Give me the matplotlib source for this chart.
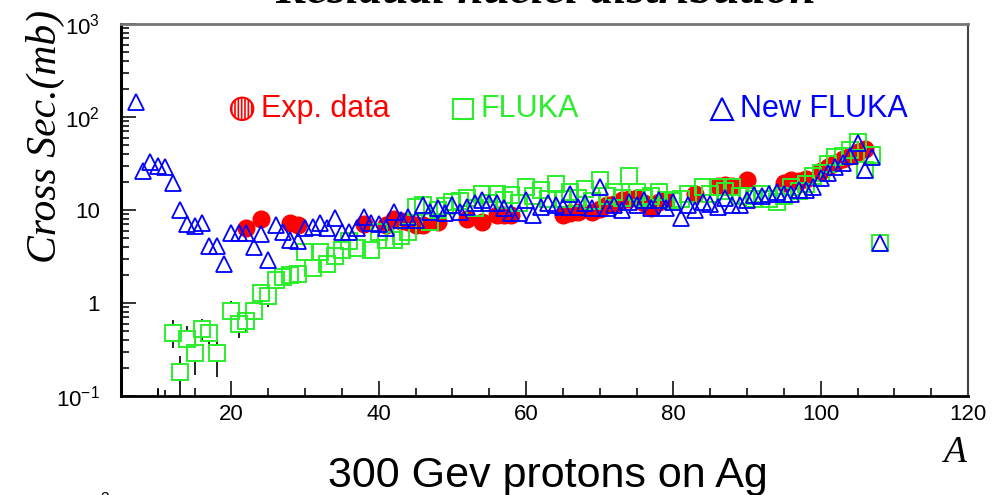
import matplotlib
matplotlib.use("Agg")
import matplotlib.pyplot as plt
import numpy as np
from matplotlib.ticker import FixedLocator, MultipleLocator, LogLocator, NullFormatter

# Residual nuclei cross sections, 300 GeV p + Ag
# measured data
exp_A = [22, 24, 28, 29, 38, 41, 42, 43, 44, 45, 46, 48, 52, 54, 56, 57, 58,
         65, 66, 67, 69, 70, 71, 72, 73, 74, 75, 76, 77, 78, 79, 83, 86, 87, 88,
         90, 95, 96, 97, 98, 100, 101, 102, 103, 104, 105, 106]
exp_xs = [6.4, 8.0, 7.2, 6.9, 7.1, 6.9, 8.0, 7.7, 7.4, 6.9, 6.9, 7.5, 8.1, 7.5,
          8.8, 8.9, 8.8, 8.8, 9.2, 9.6, 9.6, 10.2, 11.3, 11.5, 12.8, 13.2, 13.4,
          12.0, 10.4, 12.3, 12.8, 15.0, 18.2, 18.5, 18.0, 21.0, 19.5, 21.0, 20.5,
          21.5, 26.0, 29.0, 32.0, 35.0, 38.0, 42.0, 45.0]

# FLUKA
fluka_A = [10, 11, 12, 13, 14, 15, 16, 17, 18, 20, 21, 22, 23, 24, 25, 26, 27,
           28, 29, 30, 31, 32, 33, 34, 35, 36, 37, 39, 40, 41, 42, 43, 44, 45,
           46, 47, 48, 49, 50, 51, 52, 53, 54, 55, 56, 57, 58, 59, 60, 61, 62,
           63, 64, 65, 66, 67, 68, 69, 70, 71, 72, 73, 74, 75, 76, 77, 78, 79,
           80, 81, 82, 84, 85, 86, 87, 88, 89, 90, 91, 92, 93, 94, 95, 96, 97,
           98, 99, 100, 101, 102, 103, 104, 105, 106, 107, 108]
fluka_xs = [0.06, 0.065, 0.47, 0.18, 0.41, 0.29, 0.53, 0.47, 0.29, 0.82, 0.59,
            0.64, 0.82, 1.29, 1.19, 1.77, 1.9, 2.0, 2.05, 3.5, 2.4, 3.5, 2.6,
            3.2, 3.7, 4.6, 3.9, 3.7, 5.8, 4.8, 4.8, 5.2, 5.8, 10.9, 11.3, 7.5,
            10.0, 11.0, 12.3, 12.5, 13.4, 10.5, 15.0, 12.0, 15.0, 12.7, 14.5,
            12.0, 17.8, 14.0, 16.4, 13.0, 19.0, 13.0, 15.7, 13.5, 17.0, 12.5,
            21.0, 14.0, 15.7, 13.5, 23.0, 15.7, 13.5, 14.0, 15.7, 12.8, 12.5,
            13.0, 15.0, 17.8, 15.0, 17.8, 16.0, 17.8, 14.0, 14.0, 13.0, 15.0,
            13.0, 12.3, 14.0, 17.8, 16.0, 19.0, 23.0, 25.0, 31.0, 37.0, 38.0,
            44.0, 54.0, 27.0, 39.0, 4.4]

# FLUKA statistical errors (low-A tail)
err_A = [10, 11, 12, 13, 14, 15, 16, 17, 18, 20, 21, 22, 23, 24, 25]
err_lo = [0.05, 0.05, 0.33, 0.09, 0.27, 0.17, 0.38, 0.33, 0.16, 0.62, 0.42,
          0.47, 0.62, 1.0, 0.9]
err_hi = [0.12, 0.115, 0.65, 0.27, 0.56, 0.42, 0.68, 0.60, 0.38, 1.05, 0.80,
          0.83, 1.05, 1.6, 1.5]

# New FLUKA
new_A = list(range(7, 109))
new_xs = [145, 26, 33, 30, 29, 19.6, 10, 7.1, 6.7, 7.2, 4.1, 4.1, 2.6, 5.7,
          5.7, 5.6, 4.0, 5.5, 2.9, 6.9, 5.8, 4.8, 4.6, 6.4, 6.6, 7.2, 6.4, 8.2,
          5.8, 5.8, 6.4, 8.5, 7.2, 7.0, 6.4, 9.6, 7.8, 8.5, 7.8, 11.3, 9.6,
          10.4, 9.3, 11.3, 9.6, 10.9, 11.8, 12.8, 11.8, 11.8, 10.4, 9.3, 9.3,
          12.8, 8.8, 10.9, 11.8, 11.3, 10.9, 15.0, 10.9, 11.8, 10.4, 17.8, 10.4,
          11.3, 10.0, 12.3, 11.3, 12.8, 10.4, 12.8, 10.4, 12.3, 8.2, 11.3, 10.0,
          12.3, 11.5, 10.9, 13.4, 11.3, 11.3, 12.8, 14.5, 14.0, 15.0, 15.6,
          15.0, 15.0, 16.4, 16.4, 17.8, 22.0, 25.0, 29.0, 32.0, 38.0,
          52.0, 27.0, 37.0, 4.4]

RED = "#ff0000"
GREEN = "#2bee2b"
BLUE = "#0000ff"

plt.rcParams["font.family"] = ["Liberation Sans", "DejaVu Sans"]
plt.rcParams["mathtext.default"] = "regular"
plt.rcParams["hatch.color"] = RED
plt.rcParams["hatch.linewidth"] = 1.2

fig = plt.figure(figsize=(10.05, 4.95), dpi=100)
ax = fig.add_axes([0.1204, 0.2, 0.8428, 0.7515])

ax.set_xscale("linear")
ax.set_yscale("log")
ax.set_xlim(5, 120)
ax.set_ylim(0.1, 1000)

# error bars with a gap around the marker, like ROOT does
gap = 1.22
err_v = np.array([fluka_xs[fluka_A.index(a)] for a in err_A])
ax.vlines(err_A, err_lo, np.minimum(err_v / gap, err_hi), color="black", lw=1.2, zorder=2)
ax.vlines(err_A, np.maximum(err_v * gap, err_lo), err_hi, color="black", lw=1.2, zorder=2)

ax.plot(exp_A, exp_xs, "o", ms=12, color=RED, mec=RED, zorder=3)
ax.plot(fluka_A, fluka_xs, "s", ms=11, mfc="none", mec=GREEN, mew=1.4, zorder=4)
ax.plot(new_A, new_xs, "^", ms=11.5, mfc="none", mec=BLUE, mew=1.3, zorder=5)

# legend drawn in place
ax.scatter([0.143], [0.772], s=260, marker="o", facecolors="white",
           edgecolors=RED, hatch="|||||", linewidths=1.5, transform=ax.transAxes,
           zorder=6)
ax.text(0.165, 0.772, "Exp. data", color=RED, fontsize=22, va="center",
        ha="left", transform=ax.transAxes)
ax.plot([0.404], [0.772], "s", ms=15, mfc="none", mec=GREEN, mew=1.5,
        transform=ax.transAxes, zorder=6)
ax.text(0.425, 0.772, "FLUKA", color=GREEN, fontsize=22, va="center",
        ha="left", transform=ax.transAxes)
ax.plot([0.709], [0.772], "^", ms=16, mfc="none", mec=BLUE, mew=1.5,
        transform=ax.transAxes, zorder=6)
ax.text(0.731, 0.772, "New FLUKA", color=BLUE, fontsize=22, va="center",
        ha="left", transform=ax.transAxes)

# axes ticks
ax.xaxis.set_major_locator(MultipleLocator(20))
ax.xaxis.set_minor_locator(MultipleLocator(5))
ax.set_xticks([20, 40, 60, 80, 100, 120])
ax.set_xticklabels(["20", "40", "60", "80", "100", "120"])
ax.yaxis.set_major_locator(FixedLocator([0.1, 1, 10, 100, 1000]))
ax.set_yticklabels([r"$10^{-1}$", "1", "10", r"$10^{2}$", r"$10^{3}$"])
ax.yaxis.set_minor_locator(LogLocator(base=10, subs=np.arange(2, 10)))
ax.yaxis.set_minor_formatter(NullFormatter())
ax.tick_params(axis="both", which="both", direction="in", top=False,
               right=False, labelsize=16, width=1.3, color="#222222")
ax.tick_params(axis="both", which="major", length=11)
ax.tick_params(axis="both", which="minor", length=6)
ax.tick_params(axis="x", pad=6)
ax.tick_params(axis="y", pad=15)

for side, c, w in [("left", "black", 2.2), ("bottom", "black", 2.0),
                   ("top", "#777777", 2.0), ("right", "#444444", 1.5)]:
    ax.spines[side].set_color(c)
    ax.spines[side].set_linewidth(w)

serif = ["Liberation Serif", "DejaVu Serif"]
fig.text(0.543, 0.993, "Residual nuclei distribution", family=serif,
         fontsize=34, fontweight="bold", fontstyle="italic", ha="center",
         va="baseline")
fig.text(0.045, 0.725, "Cross Sec.(mb)", family=serif, fontsize=30,
         fontstyle="italic", rotation=90, ha="center", va="center")
fig.text(0.950, 0.085, "A", family=serif, fontsize=27, fontstyle="italic",
         ha="center", va="center")
fig.text(0.545, 0.016, "300 Gev protons on Ag", fontsize=31, ha="center",
         va="baseline")
fig.text(0.11, -0.035, r"$10^{3}$", fontsize=16, ha="right", va="baseline")

fig.savefig("out.png", dpi=100)
